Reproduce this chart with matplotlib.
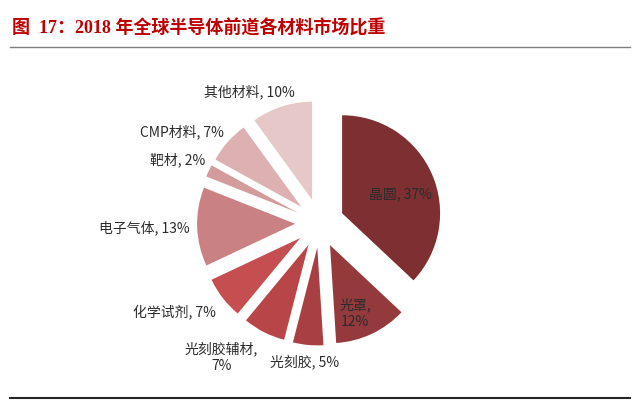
import matplotlib
matplotlib.use('Agg')
import matplotlib.pyplot as plt
from matplotlib.lines import Line2D

plt.rcParams['font.family'] = ['Noto Sans CJK SC', 'DejaVu Sans']

# 数据
materials = ['晶圆', '光罩', '光刻胶', '光刻胶辅材', '化学试剂', '电子气体', '靶材', 'CMP材料', '其他材料']
shares = [37, 12, 5, 7, 7, 13, 2, 7, 10]
colors = ['#7D2F31', '#943A3C', '#A83F42', '#B84547', '#C44E50',
          '#C98183', '#D49B9C', '#DDB1B2', '#E6C8C9']
label_text = ['晶圆, 37%', '光罩,\n12%', '光刻胶, 5%', '光刻胶辅材,\n7%', '化学试剂, 7%',
              '电子气体, 13%', '靶材, 2%', 'CMP材料, 7%', '其他材料, 10%']
# 标签位置（以饼半径为单位）
label_pos = [(0.82, 0.29), (0.36, -0.92), (-0.15, -1.42), (-1.00, -1.37), (-1.48, -0.91),
             (-1.79, -0.05), (-1.45, 0.64), (-1.40, 0.93), (-0.72, 1.34)]

W, H = 640, 405
fig = plt.figure(figsize=(W / 100, H / 100), dpi=100)

# 饼图区域: 像素 y 60..400, 中心 (319.6, 223), 半径 98px
cx, cy, r = 319.6, 223, 98.0
ax = fig.add_axes([0, (H - 400) / H, 1, 340 / H])
ax.pie(shares, colors=colors, startangle=90, counterclock=False,
       explode=[0.25] * len(shares), radius=1)
ax.set_xlim(-cx / r, (W - cx) / r)
ax.set_ylim((cy - 400) / r, (cy - 60) / r)
ax.set_aspect('auto')
ax.axis('off')

for txt, (x, y) in zip(label_text, label_pos):
    ax.text(x, y, txt, ha='center', va='center', fontsize=10, color='#2B2B2B',
            linespacing=1.25)

# 标题
fig.text(12 / W, 1 - 28 / H, '图  17：2018 年全球半导体前道各材料市场比重',
         family=['Liberation Serif', 'Noto Sans CJK SC'], fontweight='bold',
         fontsize=13, color='#C00000', ha='left', va='center')

fig.add_artist(Line2D([10 / W, 630 / W], [1 - 47 / H, 1 - 47 / H],
                      color='#7F7F7F', linewidth=1.0))
fig.add_artist(Line2D([10 / W, 630 / W], [1 - 398 / H, 1 - 398 / H],
                      color='#262626', linewidth=1.5))

plt.savefig('out.png', dpi=100)
plt.close()
